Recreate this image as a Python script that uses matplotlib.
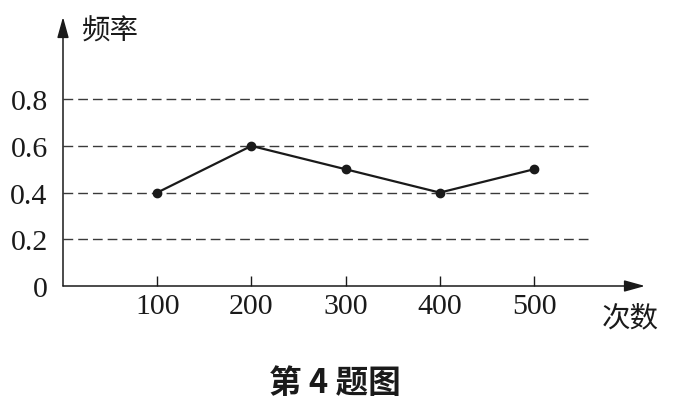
import matplotlib
matplotlib.use('Agg')
import matplotlib.pyplot as plt

# data
counts = [100, 200, 300, 400, 500]
freqs = [0.4, 0.6, 0.5, 0.4, 0.5]
y_ticks = [0, 0.2, 0.4, 0.6, 0.8]
y_labels = ['0', '0.2', '0.4', '0.6', '0.8']
grid_levels = [0.2, 0.4, 0.6, 0.8]

W, H = 693, 410
fig = plt.figure(figsize=(W / 100, H / 100), dpi=100)

# axes box in pixels: origin (63, 287), x arrow tip at 645, y arrow tip at 18
x0, y0, x1, y1 = 63, 287, 645, 18
ax = fig.add_axes([x0 / W, 1 - y0 / H, (x1 - x0) / W, (y0 - y1) / H])
px_per_x = 94.2 / 100
px_per_y = 233.5
ax.set_xlim(0, (x1 - x0) / px_per_x)
ax.set_ylim(0, (y0 - y1) / px_per_y)

for s in ax.spines.values():
    s.set_visible(False)

# axes drawn as arrows
arrow = dict(arrowstyle='-|>,head_length=0.9,head_width=0.25', color='#1a1a1a',
             lw=1.1, shrinkA=0, shrinkB=0, mutation_scale=14)
ax.annotate('', xy=(1, 0), xytext=(0, 0), xycoords='axes fraction', arrowprops=arrow)
ax.annotate('', xy=(0, 1), xytext=(0, 0), xycoords='axes fraction', arrowprops=arrow)

dash_end = (590 - x0) / px_per_x
ax.hlines(grid_levels, 0, dash_end, colors='#3a3a3a', linewidth=1.0,
          linestyles=(0, (7, 3.6)))

ax.plot(counts, freqs, color='#1a1a1a', lw=1.6, marker='o', ms=6, zorder=3)

serif = 'Liberation Serif'
ax.set_xticks(counts)
ax.set_xticklabels([str(c) for c in counts], fontfamily=serif, fontsize=21.5)
ax.set_yticks(y_ticks)
ax.set_yticklabels(y_labels, fontfamily=serif, fontsize=21.5)
ax.tick_params(axis='x', direction='in', length=7, width=1, color='#1a1a1a', pad=5)
ax.tick_params(axis='y', length=0, pad=11)
for lab in ax.get_yticklabels():
    lab.set_color('#1a1a1a')
for lab in ax.get_xticklabels():
    lab.set_color('#1a1a1a')

cjk = ['Noto Sans CJK SC', 'DejaVu Sans']
fig.text(110 / W, 1 - 32 / H, '频率', family=cjk, fontsize=20.5, color='#1a1a1a',
         ha='center', va='center')
fig.text(630 / W, 1 - 318 / H, '次数', family=cjk, fontsize=20.5, color='#1a1a1a',
         ha='center', va='center')
fig.text(335 / W, 1 - 384 / H, '第 4 题图', family=cjk, fontsize=23.5,
         fontweight='bold', color='#1a1a1a', ha='center', va='center')

fig.savefig('out.png', dpi=100)
